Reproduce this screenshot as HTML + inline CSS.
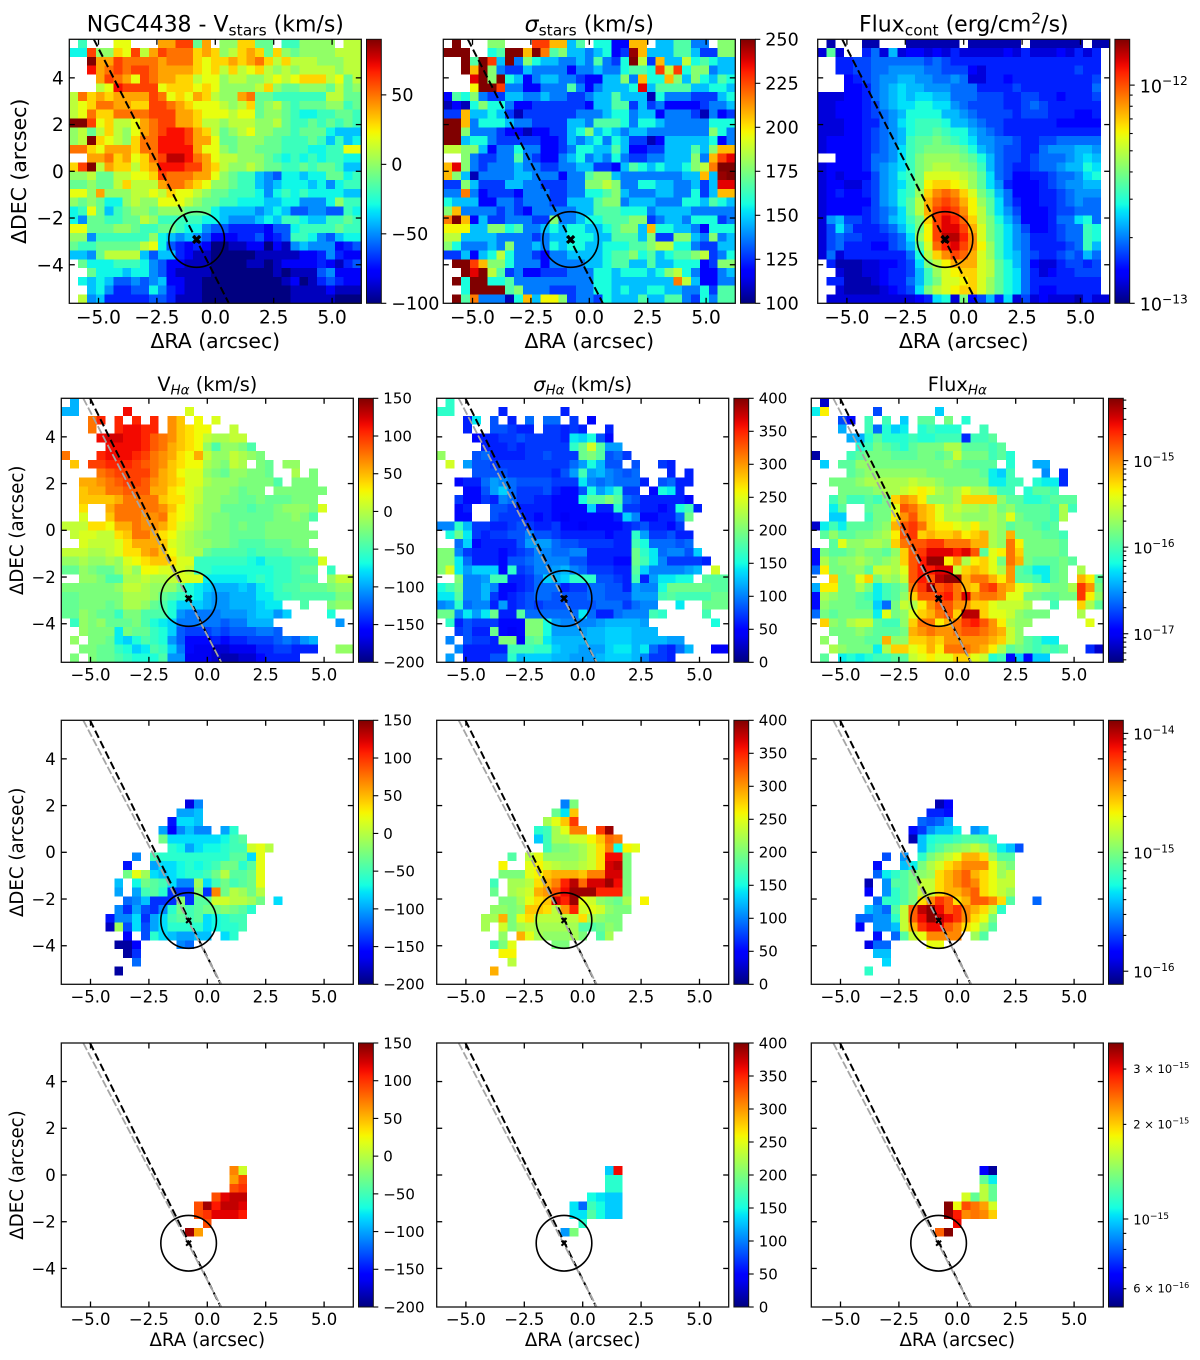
<!DOCTYPE html>
<html lang="en">
<head>
<meta charset="utf-8">
<title>NGC4438 kinematic maps</title>
<style>
html,body{margin:0;padding:0;background:#fff;}
svg{display:block;font-family:"DejaVu Sans","Liberation Sans",sans-serif;fill:#000;}
</style>
</head>
<body>
<svg id="figure" xmlns="http://www.w3.org/2000/svg" width="1200" height="1360" viewBox="0 0 1200 1360">
<defs>
<linearGradient id="jetGradient" x1="0" y1="1" x2="0" y2="0"></linearGradient>
</defs>
<rect x="0" y="0" width="1200" height="1360" fill="#fff"/>
<g id="panels"></g>
<g font-size="22" text-anchor="middle">
<text x="215.3" y="31.5">NGC4438 - V<tspan dy="4" font-size="15.5">stars</tspan><tspan dy="-4"> (km/s)</tspan></text>
<text x="589.3" y="31.5"><tspan font-style="italic">σ</tspan><tspan dy="4" font-size="15.5">stars</tspan><tspan dy="-4"> (km/s)</tspan></text>
<text x="963.8" y="31.5">Flux<tspan dy="4" font-size="15.5">cont</tspan><tspan dy="-4"> (erg/cm</tspan><tspan dy="-8" font-size="15.5">2</tspan><tspan dy="8">/s)</tspan></text>
</g>
<g font-size="19.3" text-anchor="middle">
<text x="207.3" y="391">V<tspan dy="3.5" font-size="13.5" font-style="italic">Hα</tspan><tspan dy="-3.5"> (km/s)</tspan></text>
<text x="582.7" y="391"><tspan font-style="italic">σ</tspan><tspan dy="3.5" font-size="13.5" font-style="italic">Hα</tspan><tspan dy="-3.5"> (km/s)</tspan></text>
<text x="957.3" y="391">Flux<tspan dy="3.5" font-size="13.5" font-style="italic">Hα</tspan></text>
</g>
<g font-size="20.4" text-anchor="middle">
<text x="215.3" y="348">ΔRA (arcsec)</text>
<text x="589.3" y="348">ΔRA (arcsec)</text>
<text x="963.8" y="348">ΔRA (arcsec)</text>
<text transform="translate(26,171.3) rotate(-90)">ΔDEC (arcsec)</text>
</g>
<g font-size="18.2" text-anchor="middle">
<text x="207.3" y="1346">ΔRA (arcsec)</text>
<text x="582.7" y="1346">ΔRA (arcsec)</text>
<text x="957.3" y="1346">ΔRA (arcsec)</text>
<text transform="translate(23,530.3) rotate(-90)">ΔDEC (arcsec)</text>
<text transform="translate(23,852.3) rotate(-90)">ΔDEC (arcsec)</text>
<text transform="translate(23,1175) rotate(-90)">ΔDEC (arcsec)</text>
</g>
</svg>
<script>
const _=null;
const xTickValues=[-5,-2.5,0,2.5,5];
const yTickValues=[-4,-2,0,2,4];
const velocityStarTicks=[-100,-50,0,50];
const sigmaStarTicks=[100,125,150,175,200,225,250];
const velocityGasTicks=[-200,-150,-100,-50,0,50,100,150];
const sigmaGasTicks=[0,50,100,150,200,250,300,350,400];

// V_stars, tens of km/s
const vStars=[
[_,-2,_,_,_,2,2,_,_,_,4,4,6,6,-1,4,_,0,0,3,3,-1,-1,_,-2,-2,0,0,0,0,_,1,1],
[-3,-3,6,0,0,3,2,6,1,4,6,5,5,5,3,4,3,0,1,3,4,3,-1,3,0,-1,0,0,0,0,1,1,1],
[_,_,9,4,4,6,5,5,5,5,4,5,5,5,3,2,3,3,4,3,4,5,3,1,3,1,1,1,0,0,0,1,1],
[_,_,7,4,5,6,5,6,6,5,4,4,4,4,3,2,3,1,3,1,2,3,1,0,1,0,1,1,1,1,0,1,1],
[_,_,_,4,6,5,4,2,6,5,4,4,3,3,1,2,2,0,1,1,0,0,1,2,1,2,3,3,3,1,2,-1,1],
[_,_,_,1,2,7,6,6,6,6,2,3,3,3,2,3,2,0,0,0,0,1,3,0,-1,-1,0,0,0,-1,1,-1,0],
[1,5,3,4,3,4,4,4,4,6,5,2,3,2,4,3,1,0,0,4,5,-1,-1,-2,-2,-2,-2,-2,-2,1,1,-1,-1],
[1,2,3,5,5,4,4,3,3,6,6,5,4,3,2,2,2,1,0,1,3,-1,0,1,-1,-2,-1,-1,-1,0,0,-2,-1],
[1,2,5,3,3,5,5,5,5,6,6,6,4,4,3,2,2,2,1,2,2,-1,0,0,-1,-2,-3,-3,-2,-2,-1,-1,-2],
[9,9,6,2,3,1,1,2,4,5,6,6,4,4,3,1,1,0,1,1,1,0,0,1,-1,-2,-2,-1,-2,-1,-2,-1,-2],
[0,1,-1,1,3,1,0,2,4,5,6,7,7,6,4,3,1,-1,0,1,2,0,0,-1,-1,-2,-1,-1,-1,-3,-4,-4,-4],
[0,1,9,3,2,1,0,3,5,5,7,7,7,6,4,4,2,-1,-1,0,0,0,-1,-1,-2,-2,-2,-1,-2,-4,-2,-4,-3],
[5,5,3,2,4,4,4,3,5,5,7,7,7,7,4,2,2,0,-1,0,0,-1,-1,-1,-2,-2,-2,-3,-3,-2,-2,2,2],
[_,_,4,4,5,3,4,2,3,5,6,8,8,7,5,4,2,1,1,0,0,0,-1,-2,-3,-2,-3,-2,-3,-2,-2,-3,-3],
[3,6,9,1,4,3,3,1,3,4,7,7,7,6,6,4,3,1,0,0,1,0,-1,-1,-2,-2,-1,-2,-1,-1,-2,-4,-4],
[0,0,1,-1,-1,1,1,2,2,3,6,5,5,5,4,4,2,0,-1,-2,-2,-4,-5,-6,-3,-3,-4,-3,-3,-1,-1,-3,-2],
[-1,-1,0,-1,-1,1,3,1,1,1,4,5,5,4,3,2,0,0,-1,-2,-2,-4,-5,-4,-3,-3,-3,-4,-3,-5,-3,-2,-2],
[2,2,0,4,0,0,0,1,1,2,1,3,2,2,1,0,-1,-1,-2,-2,-2,-3,-5,-3,-2,-3,-2,-3,-3,-3,-3,-4,-4],
[0,-1,0,-1,-3,-3,0,1,0,0,2,2,2,1,0,-1,-1,-2,-2,-3,-3,-3,-4,-4,-3,-3,-5,-5,-5,-3,0,-2,-2],
[-3,-2,2,-1,-4,-2,-1,0,0,-1,0,0,0,-1,-1,-1,-3,-4,-4,-4,-4,-5,-4,-3,-4,-6,-6,-5,-5,-6,-6,-2,-3],
[-3,-5,-1,-1,-2,-2,-1,-1,1,0,-2,-2,-2,-2,-2,-3,-3,-4,-5,-5,-5,-4,-3,-4,-2,-2,-3,-4,-4,-2,-2,-1,-2],
[2,2,-1,-1,-1,0,0,-1,-2,-2,-1,-1,-2,-3,-3,-5,-6,-6,-7,-7,-7,-7,-8,-6,-6,-3,-2,-2,-2,-2,-1,-2,-2],
[0,0,-5,-2,-2,-2,-2,-2,-2,0,-3,-4,-5,-4,-5,-6,-8,-8,-8,-7,-7,-6,-8,-7,-6,-2,-2,-3,-5,-6,-4,-3,-3],
[-1,-2,-2,-1,-1,-1,-1,-1,1,2,-3,-6,-7,-8,-7,-8,-10,-10,-9,-9,-8,-8,-10,-8,-9,-5,-4,-5,-5,-5,-8,-7,-6],
[-4,-4,-5,-1,1,1,1,1,-4,-6,-4,-4,-7,-8,-9,-9,-10,-10,-10,-10,-10,-9,-9,-9,-9,-9,-8,-8,-7,-5,-7,-8,-8],
[_,-1,-3,-3,-3,-2,-2,-2,-3,-5,-6,-8,-8,-9,-9,-9,-10,-10,-10,-10,-9,-9,-10,-9,-8,-8,-8,-8,-7,-8,-9,-7,-6],
[_,_,-1,-3,-3,-3,-4,-3,-3,-5,-6,-8,-9,-9,-9,-9,-10,-10,-10,-10,-10,-10,-10,-9,-10,-9,-9,-9,-6,-5,-8,-8,-8],
[_,-3,-4,-3,-4,-6,-6,-5,-6,-5,-4,-8,-8,-9,-9,-10,-10,-10,-10,-10,-10,-10,-10,-10,-9,-8,-11,-9,-7,-6,-7,-8,-8],
[_,_,-4,-3,-5,-7,-7,-6,-6,-3,-5,-7,-8,-9,-9,-10,-10,-10,-10,-10,-10,-10,-10,-10,-10,-9,-9,-9,-9,-8,-9,-9,-9],
[_,1,-5,-4,-7,-7,-7,-7,-7,-6,-6,-7,-9,-9,-9,-10,-10,-10,-10,-10,-10,-10,-10,-10,-10,-9,-9,-9,-9,-9,-10,-10,-10]
];

// sigma_stars, tens of km/s
const sigmaStars=[
[_,25,_,_,_,17,17,_,_,_,22,22,20,20,14,16,_,15,15,11,11,20,20,_,14,14,16,16,13,13,_,17,17],
[25,25,25,_,_,15,16,25,25,20,25,21,16,17,14,14,13,14,15,11,12,24,20,14,14,14,16,16,14,12,12,17,17],
[_,_,25,16,25,22,14,25,13,17,15,14,14,13,13,14,13,16,13,12,15,25,18,12,20,14,14,18,15,16,15,14,14],
[_,_,25,20,25,17,13,12,12,14,13,13,13,13,11,13,13,14,13,13,15,16,16,15,22,18,22,15,17,17,13,14,14],
[_,_,_,23,25,17,25,15,14,11,13,14,14,13,13,12,11,11,14,14,17,13,20,15,15,20,17,14,17,15,14,16,15],
[_,_,_,19,25,25,22,13,13,11,11,13,13,13,16,13,11,13,14,14,14,15,23,14,16,16,16,16,14,14,15,15,14],
[11,16,15,17,13,12,12,14,14,13,13,14,13,13,12,12,13,14,14,16,14,14,14,10,15,13,13,13,12,12,12,14,15],
[10,11,10,15,17,15,15,13,11,11,12,12,12,12,12,12,11,14,14,16,16,12,14,12,13,11,11,11,11,12,13,13,14],
[12,12,20,14,14,15,14,12,10,12,12,12,12,12,12,13,13,13,14,15,15,13,14,14,11,13,13,13,12,10,13,11,12],
[25,25,20,13,15,15,15,14,13,13,12,12,12,12,14,14,13,16,16,16,15,13,15,15,14,13,13,13,13,13,15,15,15],
[25,25,17,13,13,13,12,11,11,10,11,11,12,12,14,15,17,14,15,14,13,14,14,13,13,13,13,13,13,13,17,15,13],
[25,25,14,15,15,13,12,12,12,12,12,11,11,12,14,13,14,15,13,15,14,12,12,10,11,14,14,14,14,14,15,11,13],
[18,18,17,17,14,11,13,13,15,13,13,11,11,12,13,15,15,14,14,16,14,11,11,12,12,14,14,14,16,14,17,20,20],
[_,_,17,13,12,12,13,13,16,13,12,11,11,13,14,15,13,14,13,15,13,12,12,13,13,14,14,14,17,13,20,22,23],
[20,23,17,13,12,13,13,13,14,13,13,12,12,13,13,14,14,12,12,11,14,16,15,14,15,14,14,15,17,18,21,25,25],
[20,17,14,10,13,13,13,13,14,14,13,13,13,11,13,13,16,17,17,14,13,13,13,13,13,13,13,14,14,20,14,24,25],
[12,12,17,14,12,12,12,14,14,13,13,12,12,12,13,13,17,17,18,17,13,13,15,15,14,14,13,13,14,12,14,23,23],
[13,13,21,13,11,12,12,12,11,13,13,13,12,12,13,13,15,15,16,17,14,13,13,13,14,14,13,13,15,12,14,20,20],
[15,14,14,14,11,11,13,13,12,13,13,13,12,12,14,14,14,16,17,17,13,14,14,14,13,13,13,15,15,14,16,15,14],
[17,20,13,13,13,13,12,13,12,11,13,13,13,13,13,14,14,16,16,16,15,15,15,13,14,14,14,14,13,13,13,13,13],
[21,25,20,11,14,12,12,13,13,13,12,12,17,13,13,14,15,15,16,16,16,17,17,12,13,14,14,13,15,15,15,12,13],
[19,19,19,14,14,17,17,15,16,13,13,14,15,14,15,15,14,14,15,16,17,17,14,20,15,15,14,14,13,11,15,15,15],
[18,18,14,14,14,14,13,13,13,13,12,13,14,14,15,15,15,14,14,16,16,16,14,17,12,12,17,17,14,13,17,13,14],
[17,15,13,13,13,14,13,17,13,13,14,13,15,14,15,15,14,14,15,15,15,16,16,17,18,18,15,15,13,12,12,14,14],
[12,12,14,11,14,15,18,15,13,13,12,11,13,13,14,14,14,14,15,16,16,17,15,16,14,15,16,16,17,18,12,13,15],
[_,25,25,22,20,17,17,15,13,13,13,11,13,13,13,13,14,14,15,16,16,14,14,16,14,14,15,15,15,11,12,17,17],
[_,_,25,23,25,18,16,12,13,11,11,12,12,12,13,13,13,15,15,14,15,15,15,14,15,17,18,15,13,11,11,13,14],
[_,25,15,25,25,15,15,16,13,13,13,13,13,13,13,13,13,15,15,14,14,14,14,14,14,14,21,18,14,11,11,13,13],
[_,_,15,25,25,25,25,16,17,13,13,13,12,12,12,13,13,15,15,14,15,14,14,15,15,14,14,13,13,15,12,16,16],
[_,25,16,21,13,13,13,10,15,20,14,19,19,17,12,13,13,12,15,14,14,14,16,14,14,16,16,13,12,15,13,16,16]
];

// Continuum flux, units of 0.05 dex above 1e-13
const fluxCont=[
[_,0,_,_,_,0,0,_,_,_,0,0,0,0,0,0,_,0,0,0,0,0,0,_,0,0,0,0,0,0,_,0,0],
[1,11,1,_,_,3,5,1,7,1,2,2,1,2,1,3,1,1,1,1,1,2,1,3,1,1,1,2,1,3,1,3,_],
[_,_,3,3,4,4,5,5,5,5,5,5,4,5,4,3,3,3,3,3,3,3,3,3,3,3,3,3,3,3,3,3,_],
[_,_,3,3,4,4,5,5,6,6,6,6,5,5,4,4,4,2,1,3,3,3,3,3,3,3,3,3,3,4,3,3,_],
[_,_,_,2,3,4,5,6,6,7,7,6,6,5,5,6,5,1,1,3,3,2,3,3,3,3,3,3,3,3,3,4,_],
[_,_,_,2,2,3,5,6,7,8,7,7,6,6,6,5,5,5,3,3,3,3,4,3,3,3,3,3,3,3,3,5,_],
[1,1,1,2,2,3,5,6,7,8,7,8,8,7,7,5,5,5,4,4,4,3,3,4,4,3,3,2,3,3,3,4,_],
[1,1,2,2,2,3,4,6,7,8,8,9,9,8,8,6,5,4,4,4,4,3,3,4,5,4,3,3,3,3,3,3,_],
[1,1,2,2,2,3,4,5,6,7,9,9,9,9,7,7,6,5,4,4,4,4,3,4,4,4,3,3,3,2,2,3,_],
[1,1,1,2,2,3,3,5,6,8,9,10,10,10,9,7,7,6,5,4,4,3,3,3,3,3,3,2,2,2,2,2,_],
[1,1,1,2,2,3,4,5,6,7,9,10,10,11,10,9,9,7,6,5,4,3,3,3,3,3,3,3,3,3,3,3,_],
[1,2,2,2,2,3,4,5,6,7,10,11,11,12,11,10,9,8,6,6,5,5,4,3,3,4,4,5,5,5,5,5,_],
[1,2,2,2,2,3,4,5,6,8,10,11,12,12,12,12,11,9,7,6,5,4,4,3,3,5,6,6,6,7,7,6,_],
[_,_,2,2,2,3,5,5,6,8,10,12,13,13,13,13,12,11,9,7,5,4,4,3,4,5,5,5,6,7,8,7,_],
[1,2,2,2,2,3,5,6,7,8,10,12,13,14,14,13,13,12,10,7,5,4,3,3,4,5,5,6,7,7,9,8,_],
[1,2,1,2,2,2,4,6,7,9,10,12,15,15,15,15,14,13,11,8,5,4,2,2,3,3,4,5,5,6,8,9,_],
[1,2,2,1,1,3,4,6,7,8,10,12,16,17,17,16,15,13,11,8,6,3,2,2,2,3,4,5,6,6,7,7,_],
[1,2,3,2,2,3,4,6,7,9,10,13,17,19,20,19,17,15,12,10,7,5,2,2,2,3,3,4,5,6,6,6,_],
[1,2,2,2,2,2,4,6,7,9,11,14,18,20,21,20,18,16,13,11,8,5,3,2,2,3,3,4,5,6,5,5,_],
[1,2,2,2,2,3,4,5,6,8,11,14,18,21,22,21,19,16,14,11,8,6,4,2,2,2,3,4,4,5,5,5,_],
[1,6,7,4,4,3,4,5,7,8,10,12,17,21,23,22,20,17,14,12,9,7,5,2,2,2,3,5,5,8,9,5,_],
[1,4,8,5,3,3,3,4,5,7,9,12,16,21,23,23,21,18,15,12,10,8,6,4,2,2,3,4,5,5,10,9,_],
[1,4,5,4,4,3,3,3,4,5,8,13,16,21,24,24,22,19,15,12,10,8,6,5,3,3,3,4,5,5,10,9,_],
[1,4,5,3,3,3,2,2,4,5,7,11,15,20,22,23,21,19,16,13,10,8,6,5,3,3,3,3,4,5,10,7,_],
[1,5,1,3,3,3,3,3,3,3,5,9,14,17,19,21,20,18,15,13,10,8,7,5,4,3,3,4,5,4,7,5,_],
[_,3,0,0,0,1,1,2,2,3,4,8,12,14,16,18,18,18,15,14,11,9,7,5,2,1,1,3,4,4,3,4,_],
[_,_,1,0,0,1,1,2,3,3,4,7,10,13,15,16,17,17,15,14,11,9,8,5,3,1,2,3,3,4,4,4,_],
[_,3,3,0,0,0,1,2,3,3,5,7,10,12,15,15,16,17,15,13,11,9,8,5,3,3,3,3,3,3,3,3,_],
[_,_,1,0,0,0,0,1,2,3,4,8,12,14,15,16,17,17,15,13,11,9,8,5,3,2,2,3,3,3,3,3,_],
[_,1,1,1,1,1,1,1,1,1,1,2,3,8,9,1,12,2,4,7,3,8,1,4,1,2,1,1,1,0,3,1,1]
];

// V_Halpha, tens of km/s
const vGas=[
[_,-10],
[-10,-10,_,_,_,_,_,11,_,_,_,_,_,_,1],
[_,_,_,7,10,_,10,_,10,_,10,_,6,4,_,2,_,1],
[_,_,_,7,_,_,10,11,11,10,10,_,6,4,3,2,2,_,_,0],
[_,_,_,_,11,12,12,11,11,10,8,7,6,4,3,2,0,-1,-1,0,0],
[_,_,_,_,_,11,11,11,11,10,8,7,5,4,3,2,-2,-5,-2,-2,-3,-5],
[7,_,_,_,10,11,11,11,10,9,7,6,5,3,2,5,0,-2,-2,0,-1,-2,-3],
[_,4,_,9,9,10,10,10,9,8,7,6,4,3,2,2,-1,-2,-3,0,-1,_,-3,-4,_,-2,-2],
[_,_,_,_,7,8,9,9,9,9,7,5,4,2,1,1,-2,-3,-4,-2,-2,-3,-3,-4,_,_,-1,_,-3],
[_,_,5,5,6,7,8,9,9,8,6,5,4,3,1,1,-1,-2,-2,-2,-3,-3,-3,-3,-5,_,-3,-3,-3],
[_,_,4,5,5,7,7,8,8,8,5,5,3,2,1,0,-2,-2,-2,-3,-4,-3,-3,_,-3,-3,-3,-3,-3,-3],
[_,_,4,4,4,4,5,7,7,7,7,4,3,3,1,0,-2,-2,-3,-3,-4,-4,-3,-4,-4,-4,-3,-3,-3],
[_,_,3,_,_,5,7,7,7,7,7,6,4,2,1,-1,-2,-2,-4,-4,-4,-5,-4,-4,-3,-2,-2,-2,-3,1],
[_,_,1,_,_,4,7,7,7,6,6,7,3,2,1,-1,-2,-3,-3,-4,-4,-4,-4,-4,-3,-3,-2,-3,-5],
[0,0,0,3,3,2,5,5,7,6,6,5,3,1,0,-1,-2,-3,-3,-4,-3,-4,-4,-3,-3,-3,-3,-3],
[_,0,1,1,0,0,3,4,7,7,5,3,2,0,-1,-2,-3,-3,-3,-4,-4,-4,-4,-3,-3,-3,-3,-3,-3],
[_,_,1,0,0,0,1,3,5,5,5,4,1,0,-1,-2,-2,-3,-3,-4,-5,-5,-5,-4,-4,-4,-3,-3],
[0,0,0,-1,-1,0,1,3,3,5,6,4,2,0,-1,-1,-4,-5,-5,-5,-5,-6,-5,-5,-5,-4,-4,-4,-3],
[-2,-2,-1,-2,-2,-1,-2,1,2,3,4,4,3,1,1,-6,-6,-6,-6,-6,-6,-7,-8,-6,-6,-6,-5,-5,-5,1],
[-4,-4,-2,-3,-4,-4,-2,0,-2,2,2,1,1,1,0,-6,-6,-7,-7,-7,-7,-7,-7,-7,-6,-6,-5,-4,-4,_,-6],
[_,_,-2,-2,-3,-5,-5,-1,-1,0,-1,-1,0,1,1,1,-8,-8,-8,-8,-8,-7,-6,-7,-6,-6,-5,-5,-5,_,-2,0,0],
[-3,-3,-3,-3,-3,-3,-2,0,0,-1,-2,-2,-2,-4,-7,-8,-9,-10,-10,-10,-9,-10,-8,-7,-6,-5,-5,-4,-4,-4,-3,-2,-2],
[-4,-4,-3,-3,-3,-3,-3,-1,-1,-1,-2,-4,-5,-6,-7,-8,-10,-11,-11,-10,-10,-10,-8,-8,-6,-6,-5,-5,-5,-5,-5,-3,-3],
[-4,-4,-3,-3,-3,-4,-3,-1,-1,-2,-4,-5,-7,-9,-9,-9,-10,-11,-11,-10,-10,-10,-9,-8,-8,_,_,-5,_,_,-3,-2,-2],
[-4,-4,-2,-3,-4,-4,-6,-3,-3,-5,-5,-5,-7,-11,-12,-12,-12,-12,-11,-11,-11,-10,-9,-9,-11,-9,_,_,_,_,-7],
[_,-6,-2,-3,-2,-4,-4,-4,-3,-5,-7,-8,-9,-12,-12,-12,-12,-12,-13,-12,-12,-10,-10,-10,_,_,_,_,_,_,_,-11],
[_,_,-2,-3,-3,-3,-8,-3,-4,-4,-6,-7,-9,-13,-14,-14,-14,-13,-14,-13,-13,-13,-12,-12,-13],
[_,-2,_,-3,-3,-4,-8,-9,-7,-5,-6,-7,-11,-13,-16,-16,-16,-15,-16,-15,-15,-14,-14,-14,-13,-12,-13,-11,-10],
[_,_,-3,-3,-4,-4,-6,-7,-9,-8,-5,-6,-9,-12,-16,-17,-17,-18,-18,-17,-17,-17,-15,-15,-14,-14,-15,-15,-15,_,_,-2,-2],
[_,-3,_,-3,-4,-4,-5,-6,-7,-7,-7,-5,-11,-11,-17,-17,-17,-18,-19,-19,-18,-18,-16,-15,-15,-15,-15]
];

// sigma_Halpha, tens of km/s
const sigmaGas=[
[_,15],
[15,15,_,_,_,_,_,5,_,_,_,_,_,_,5],
[_,_,_,5,13,_,7,_,5,_,8,_,8,8,_,6,_,4],
[_,_,_,5,_,_,7,7,6,5,5,_,6,6,5,6,5,_,_,5],
[_,_,_,_,4,5,5,6,6,7,6,6,6,6,5,13,12,14,7,4],
[_,_,_,_,_,5,5,5,6,5,6,6,6,6,6,15,18,23,17,10,10],
[20,_,_,_,7,8,5,5,5,5,6,6,7,6,6,6,18,19,17,7,8,6],
[_,23,_,10,7,7,6,6,6,6,6,6,6,6,6,8,10,14,11,7,7,_,7,_,_,6,5],
[_,_,_,_,7,7,7,7,6,6,6,6,6,5,7,10,16,10,11,9,8,7,8,_,_,_,5,_,5],
[_,_,4,5,5,8,10,9,8,7,7,7,7,6,6,6,13,9,8,9,8,8,8,5,_,7,8,5,5],
[_,_,_,4,4,7,10,12,8,6,6,6,7,5,4,4,7,14,10,12,15,6,6,_,4,14,13,5],
[_,_,6,4,4,6,5,9,8,6,6,5,5,4,4,4,14,17,17,19,17,8,7,5,5,5,5,5,4],
[_,_,4,5,_,_,7,7,6,5,5,5,5,4,4,4,4,12,5,5,15,6,6,5,5,4,5,14,16,5],
[_,_,4,4,_,_,7,6,6,6,5,4,5,4,3,4,4,4,4,4,5,12,9,4,4,5,5,8,18],
[9,9,15,11,6,6,5,5,6,7,6,5,5,6,4,4,3,4,4,4,4,5,6,7,5,5,4,6],
[_,14,18,13,6,5,6,6,7,7,9,7,7,6,5,5,5,5,5,4,5,5,15,10,6,6,7,5,5],
[_,_,8,12,4,5,5,5,5,7,10,10,10,8,7,7,6,6,6,6,5,5,16,14,8,8,8,7,8],
[19,19,9,6,5,5,5,4,5,6,7,9,9,8,8,9,9,5,5,5,5,5,18,15,13,8,9,9,7,12],
[19,19,13,8,5,5,5,4,7,7,8,9,9,9,9,7,7,5,5,5,4,4,18,16,13,9,6,6,6,6,5],
[19,23,13,10,12,12,12,4,15,6,7,9,9,10,11,9,8,6,6,6,5,5,17,12,9,9,9,9,10,11,_,23],
[_,_,19,9,9,10,16,16,5,5,6,8,12,11,12,15,15,15,7,7,6,5,16,5,10,13,13,14,14,_,17,17,17],
[14,16,18,9,9,11,9,4,4,5,6,8,8,8,5,6,6,8,8,7,7,5,10,9,9,14,18,18,18,18,18,17,17],
[13,13,17,9,9,11,6,4,5,6,7,8,8,7,7,7,7,8,8,7,7,7,10,10,10,16,17,16,16,16,16,18,18],
[9,10,15,8,9,9,5,10,5,6,7,6,7,7,7,7,7,7,8,8,8,6,8,9,9,_,_,13,_,_,18,18,18],
[18,18,9,13,10,13,18,5,5,17,8,8,8,8,8,8,13,8,5,5,8,9,9,9,16,15,_,_,_,_,16],
[_,15,5,7,6,6,6,4,4,4,19,19,14,10,9,9,9,9,10,11,11,11,11,10,_,_,_,_,_,_,_,14],
[_,_,6,7,5,5,18,4,3,4,19,19,14,10,10,10,10,11,11,12,12,12,11,11,11],
[_,9,_,7,6,6,5,19,19,3,17,18,13,11,11,11,11,11,11,12,12,12,11,11,11,11,10,10],
[_,_,9,5,5,5,5,5,16,16,16,15,15,12,11,11,10,10,10,12,13,13,11,13,8,6,5,8,11,_,_,3,3],
[_,10,_,5,5,5,7,7,15,11,12,12,12,11,11,10,10,10,11,12,12,12,11,9,6,6,5]
];

// Halpha flux, units of 0.1 dex above 10^-17.33
const fluxGas=[
[_,2],
[11,20,_,_,_,_,_,6,_,_,_,_,_,_,10],
[_,_,_,6,4,_,13,_,13,_,10,_,14,14,_,15,_,12],
[_,_,_,9,_,_,13,7,12,10,11,_,12,13,12,12,12,_,_,13],
[_,_,_,_,9,9,12,14,12,12,12,13,12,12,13,13,13,5,13,13,14],
[_,_,_,_,_,12,13,15,14,13,12,14,15,15,15,17,17,14,14,14,13,14],
[1,_,_,_,13,14,15,15,15,14,14,14,15,15,14,15,18,15,15,15,13,14,12],
[_,10,_,14,14,16,16,15,15,15,15,15,15,15,15,16,15,14,14,14,14,_,12,_,_,9,9],
[_,_,_,_,14,15,16,16,16,16,16,16,16,15,15,15,15,15,15,14,11,10,13,_,_,_,8,_,5],
[_,_,15,15,15,16,17,17,17,17,17,18,17,17,16,15,15,15,15,15,11,11,13,13,_,12,11,11,5],
[_,_,_,15,15,15,15,16,17,17,18,19,20,19,17,16,17,19,17,17,15,13,13,_,12,14,14,13],
[_,_,13,15,13,13,14,13,15,21,23,22,20,16,16,16,17,21,21,21,21,16,14,14,12,12,13,14,14,14],
[_,_,11,14,_,_,14,15,15,19,25,24,22,21,19,17,18,17,17,16,17,15,16,14,14,14,14,13,17,13],
[_,_,10,10,_,_,13,15,15,20,23,25,22,21,19,17,17,16,16,16,17,16,19,15,14,14,14,13,17],
[2,11,13,11,14,14,14,15,16,22,25,26,24,21,20,20,19,18,20,17,17,16,14,15,15,14,13,14],
[_,14,16,14,14,15,15,16,17,20,25,26,21,22,21,21,22,20,21,22,17,16,22,15,15,15,14,14,13],
[_,_,14,19,16,16,17,17,16,21,24,25,25,26,26,24,24,24,22,22,17,16,24,20,15,15,15,15,14],
[4,15,14,14,15,16,15,15,14,16,21,25,26,28,28,28,27,28,25,14,19,20,24,21,15,15,15,15,14],
[4,17,15,16,16,17,16,15,16,17,21,25,27,30,30,20,23,17,20,21,19,15,24,22,15,14,14,14,15,14],
[7,20,15,15,16,16,14,18,18,17,19,25,27,27,28,28,18,21,22,21,19,17,23,14,13,11,11,14,15,_,17],
[_,_,21,15,15,19,21,15,17,16,18,25,27,25,29,30,30,22,24,24,22,20,23,14,14,13,11,14,15,_,22,20,14],
[9,20,20,15,15,17,15,11,13,14,15,24,26,29,25,26,24,22,21,25,26,23,22,19,18,16,16,15,15,17,26,23,15],
[4,17,16,15,15,14,13,11,13,14,16,21,25,25,26,27,24,28,23,24,24,23,19,19,15,15,14,14,15,15,26,20,16],
[4,16,15,15,15,14,14,10,7,15,18,17,20,23,25,25,23,23,21,21,19,18,18,18,17,_,_,13,_,_,21,17,14],
[7,15,14,15,15,15,15,11,19,15,16,19,21,22,24,25,21,29,29,21,19,19,18,16,15,15,15,_,_,_,17],
[_,21,16,15,17,18,18,14,13,13,16,21,24,24,20,22,24,26,27,25,23,20,17,16,16,_,_,_,_,_,_,19],
[_,_,15,15,15,16,15,14,14,14,15,22,23,24,23,23,24,25,25,24,23,22,18,16],
[_,16,_,15,15,15,14,14,22,16,16,21,21,22,21,23,23,23,23,23,22,21,18,16,14,13,11,11],
[_,_,17,16,15,15,15,11,17,21,21,19,20,22,20,24,24,24,23,22,20,17,14,15,14,13,14,13,14,_,_,5,2],
[_,14,_,11,12,11,12,13,13,14,14,18,19,20,19,19,21,21,19,18,12,13,4,10,4,10,10]
];

// Row 3: broad/intermediate component
const vGasMid=[[],[],[],[],[],[],[],[],[],
[_,_,_,_,_,_,_,_,_,_,_,_,_,_,-17,-11],
[_,_,_,_,_,_,_,_,_,_,_,_,_,-10,-10,-9],
[_,_,_,_,_,_,_,_,_,_,_,_,-15,-8,-8,-9],
[_,_,_,_,_,_,_,_,_,_,_,-10,-16,-11,-9,-11,-11,_,-10,-6],
[_,_,_,_,_,_,_,_,_,_,_,-3,-8,-8,-8,-8,-8,-8,-7,-5,-4],
[_,_,_,_,_,_,_,_,_,_,_,_,-6,-7,-10,-8,-7,-7,-6,-5,-5,1,2,0],
[_,_,_,_,_,_,_,_,-11,_,-5,-6,-6,-6,-6,-6,-6,-6,-6,-4,-4,-8,2],
[_,_,_,_,_,_,_,-15,_,_,-10,-8,-8,-7,-6,-7,-6,-5,-3,-3,-6,-4,2],
[_,_,_,_,_,_,_,-3,2,-1,-8,-9,-8,-7,-6,-6,-5,-3,0,-4,-4,-3,2],
[_,_,_,_,_,_,-9,_,-7,-3,-4,-5,-8,-11,-11,-1,-8,-5,-3,-5,-4,-3,2],
[_,_,_,_,_,_,-10,_,-10,-5,-4,-6,-14,-14,-14,-2,-14,7,-3,0,-1,-3,0],
[_,_,_,_,_,_,_,-12,-11,-9,-14,-14,-14,-2,-14,-4,-4,1,1,0,0,-1,-3,_,-8],
[_,_,_,_,_,_,-11,-14,-10,-13,-14,-11,-6,-3,-5,-4,-3,-3,-2,-3,-4,-6],
[_,_,_,_,_,-15,-11,-11,-8,-14,-10,-8,-5,-4,-5,-4,-8,-7,-6,-5,-5],
[_,_,_,_,_,-18,-1,-13,-8,-13,-10,-8,-6,-6,-6,-6,-8,-7,-6,-6,-5],
[_,_,_,_,_,_,_,-16,_,-13,-6,-8,-9,-10,-10,-9,-9,_,-8,-6],
[_,_,_,_,_,_,-19,-19,-16,_,_,_,_,-11,-12],
[_,_,_,_,_,_,_,-19,-14],
[_,_,_,_,_,_,_,_,-12],
[_,_,_,_,_,_,-19]
];
const sigmaGasMid=[[],[],[],[],[],[],[],[],[],
[_,_,_,_,_,_,_,_,_,_,_,_,_,_,10,20],
[_,_,_,_,_,_,_,_,_,_,_,_,_,19,14,28],
[_,_,_,_,_,_,_,_,_,_,_,_,22,25,28,34],
[_,_,_,_,_,_,_,_,_,_,_,16,17,22,25,31,31,_,34,39],
[_,_,_,_,_,_,_,_,_,_,_,13,17,22,22,24,24,26,28,32,31],
[_,_,_,_,_,_,_,_,_,_,_,_,17,20,20,21,22,24,27,31,15,26,25],
[_,_,_,_,_,_,_,_,18,_,23,25,21,21,21,21,22,24,27,36,36,20],
[_,_,_,_,_,_,_,26,_,_,25,26,24,23,22,22,23,24,27,37,38,20],
[_,_,_,_,_,_,_,20,20,20,25,26,28,29,29,29,28,31,31,37,37,20],
[_,_,_,_,_,_,17,_,22,22,23,27,29,31,35,38,32,37,37,39,36,20],
[_,_,_,_,_,_,19,_,22,23,24,29,30,33,36,39,39,39,35,35,35,20],
[_,_,_,_,_,_,_,20,20,22,25,27,28,37,35,39,25,24,21,20,19,22,_,26],
[_,_,_,_,_,_,21,21,20,21,28,28,27,23,30,35,24,25,24,21,20,20],
[_,_,_,_,_,22,22,29,20,25,27,23,23,23,23,23,27,22,21,20,20],
[_,_,_,_,_,22,_,24,20,22,23,22,22,22,22,22,18,18,19,21,20],
[_,_,_,_,_,_,_,21,_,29,25,22,21,21,21,22,20,_,18,22],
[_,_,_,_,_,_,17,20,25,_,_,_,_,20,20],
[_,_,_,_,_,_,_,26,26],
[_,_,_,_,_,_,_,_,23],
[_,_,_,_,_,_,29]
];
const fluxGasMid=[[],[],[],[],[],[],[],[],[],
[_,_,_,_,_,_,_,_,_,_,_,_,_,_,1,2.5],
[_,_,_,_,_,_,_,_,_,_,_,_,_,3.5,3.5,3],
[_,_,_,_,_,_,_,_,_,_,_,_,5,4.5,5,6.5],
[_,_,_,_,_,_,_,_,_,_,_,3,4,6,7,7,8,_,6,7],
[_,_,_,_,_,_,_,_,_,_,_,1,7,8.5,9,9,9.5,10,10,9.5,9],
[_,_,_,_,_,_,_,_,_,_,_,_,7,9,10,11,11.5,12,13,12,10,8,7,4.5],
[_,_,_,_,_,_,_,_,4.5,_,6,_,9,11,12,13,14,16,16,15,12,10,10],
[_,_,_,_,_,_,_,3,_,_,7,8,11,12.5,13.5,15,16,17,17,17,14,12,11],
[_,_,_,_,_,_,_,5,8,9,10,11,11.5,12,15,16,17,18,16,15,14,12,13],
[_,_,_,_,_,_,1,_,6,10,10,11,13,13,15,16,17,18,17,15,14,13,13],
[_,_,_,_,_,_,2.5,_,6,9,10,11,13,13,15,16,16,17,18,15,14,13,12],
[_,_,_,_,_,_,_,5,9,9,10,11,15,17,19,18,15,16,18,18,17,15,10,_,_,5],
[_,_,_,_,_,_,7,6,5,10,13,18,21,22,20,18,19,17,16,15,13,9],
[_,_,_,_,_,5,5,6,6,9,13,18,20,22,21,20,19,17,15,14,11],
[_,_,_,_,_,2.5,_,6,6,7,13,16,19,20,20,18,17,15,14,12,10],
[_,_,_,_,_,_,_,3,_,5,10,13,14,17,17,17,17,_,12,10],
[_,_,_,_,_,_,2,5,5,_,_,_,_,14,14],
[_,_,_,_,_,_,_,7,7],
[_,_,_,_,_,_,_,_,7.5],
[_,_,_,_,_,_,9]
];

// Row 4: redshifted component
const vGasHigh=[[],[],[],[],[],[],[],[],[],[],[],[],[],[],
[_,_,_,_,_,_,_,_,_,_,_,_,_,_,_,_,_,_,_,7,1],
[_,_,_,_,_,_,_,_,_,_,_,_,_,_,_,_,_,_,_,6,9],
[_,_,_,_,_,_,_,_,_,_,_,_,_,_,_,_,_,_,_,9,10],
[_,_,_,_,_,_,_,_,_,_,_,_,_,_,_,_,_,9,12,13,13],
[_,_,_,_,_,_,_,_,_,_,_,_,_,_,_,9,14,11,13,13,12],
[_,_,_,_,_,_,_,_,_,_,_,_,_,_,_,9,10,12,12,12,11],
[_,_,_,_,_,_,_,_,_,_,_,_,_,_,_,_,9],
[_,_,_,_,_,_,_,_,_,_,_,_,_,_,14,6]
];
const sigmaGasHigh=[[],[],[],[],[],[],[],[],[],[],[],[],[],[],
[_,_,_,_,_,_,_,_,_,_,_,_,_,_,_,_,_,_,_,13,36],
[_,_,_,_,_,_,_,_,_,_,_,_,_,_,_,_,_,_,_,16,16],
[_,_,_,_,_,_,_,_,_,_,_,_,_,_,_,_,_,_,_,16,16],
[_,_,_,_,_,_,_,_,_,_,_,_,_,_,_,_,_,15,14,13,13],
[_,_,_,_,_,_,_,_,_,_,_,_,_,_,_,14,9,17,15,13,13],
[_,_,_,_,_,_,_,_,_,_,_,_,_,_,_,14,14,18,15,13,13],
[_,_,_,_,_,_,_,_,_,_,_,_,_,_,_,_,16],
[_,_,_,_,_,_,_,_,_,_,_,_,_,_,11,20]
];
// Units of 1e-16
const fluxGasHigh=[[],[],[],[],[],[],[],[],[],[],[],[],[],[],
[_,_,_,_,_,_,_,_,_,_,_,_,_,_,_,_,_,_,_,6.5,5.5],
[_,_,_,_,_,_,_,_,_,_,_,_,_,_,_,_,_,_,_,13,10.5],
[_,_,_,_,_,_,_,_,_,_,_,_,_,_,_,_,_,_,_,16,13],
[_,_,_,_,_,_,_,_,_,_,_,_,_,_,_,_,_,17,13,16,13],
[_,_,_,_,_,_,_,_,_,_,_,_,_,_,_,36,18,26,24,22,17],
[_,_,_,_,_,_,_,_,_,_,_,_,_,_,_,35,29,23,24,23,20],
[_,_,_,_,_,_,_,_,_,_,_,_,_,_,_,_,30],
[_,_,_,_,_,_,_,_,_,_,_,_,_,_,25,36]
];

const logMajorCont=[-13,-12];
const logMinorCont=[2e-13,3e-13,4e-13,5e-13,6e-13,7e-13,8e-13,9e-13];
const logMajorGas=[-17,-16,-15];
const logMinorGas=[5e-18,6e-18,7e-18,8e-18,9e-18,2e-17,3e-17,4e-17,5e-17,6e-17,7e-17,8e-17,9e-17,2e-16,3e-16,4e-16,5e-16,6e-16,7e-16,8e-16,9e-16,2e-15,3e-15,4e-15,5e-15];
const logMajorMid=[-16,-15,-14];
const logMinorMid=[2e-16,3e-16,4e-16,5e-16,6e-16,7e-16,8e-16,9e-16,2e-15,3e-15,4e-15,5e-15,6e-15,7e-15,8e-15,9e-15];
const logMajorHigh=[-15];
const logMinorHigh=[7e-16,8e-16,9e-16];
const logMantissaHigh=[6e-16,2e-15,3e-15];

const NS='http://www.w3.org/2000/svg';
const COLS=33,ROWS=30,AX_W=292,AX_H=264,X_LIM=6.25,Y_LIM=5.65;
const rowTops=[39.3,398.3,720.3,1043];
const panelRoot=document.getElementById('panels');

function jetChannel(points,f){
  for(let i=1;i<points.length;i++){
    if(f<=points[i][0]){
      const a=points[i-1],b=points[i];
      return a[1]+(b[1]-a[1])*(f-a[0])/(b[0]-a[0]);
    }
  }
  return points[points.length-1][1];
}
const jetR=[[0,0],[.35,0],[.66,1],[.89,1],[1,.5]];
const jetG=[[0,0],[.125,0],[.375,1],[.64,1],[.91,0],[1,0]];
const jetB=[[0,.5],[.11,1],[.34,1],[.65,0],[1,0]];
function jet(f){
  f=Math.max(0,Math.min(1,f));
  const c=p=>Math.round(255*jetChannel(p,f));
  return 'rgb('+c(jetR)+','+c(jetG)+','+c(jetB)+')';
}
const gradient=document.getElementById('jetGradient');
for(let i=0;i<=40;i++){
  const stop=document.createElementNS(NS,'stop');
  stop.setAttribute('offset',(i/40));
  stop.setAttribute('stop-color',jet(i/40));
  gradient.appendChild(stop);
}

function make(tag,parent,attrs){
  const el=document.createElementNS(NS,tag);
  for(const k in attrs){el.setAttribute(k,attrs[k]);}
  parent.appendChild(el);
  return el;
}
function powerLabel(parent,x,y,exp,size,mantissa){
  const t=make('text',parent,{x:x,y:y,'font-size':size});
  
  
  const base=document.createElementNS(NS,'tspan');
  base.textContent=(mantissa?mantissa+' × ':'')+'10';
  t.appendChild(base);
  const sup=document.createElementNS(NS,'tspan');
  sup.setAttribute('dy',-size*0.42);
  sup.setAttribute('font-size',size*0.7);
  sup.textContent='−'+Math.abs(exp);
  t.appendChild(sup);
}

function drawPanel(p){
  const g=make('g',panelRoot,{});
  
  
  const cx=p.left+AX_W/2,cy=p.top+AX_H/2;
  const xScale=v=>cx+v*AX_W/(2*X_LIM);
  const yScale=v=>cy-v*AX_H/(2*Y_LIM);
  const cellW=2*X_LIM/COLS,cellH=2*Y_LIM/ROWS;
  const frac=v=>(p.toValue(v)-p.vmin)/(p.vmax-p.vmin);

  const cells=make('g',g,{'shape-rendering':'crispEdges'});
  
  
  p.data.forEach((row,r)=>{
    row.forEach((v,c)=>{
      if(v===null||c>=COLS){return;}
      const x0=xScale(-X_LIM+c*cellW),x1=xScale(-X_LIM+(c+1)*cellW);
      const y0=yScale(Y_LIM-r*cellH),y1=yScale(Y_LIM-(r+1)*cellH);
      const cell=make('rect',cells,{x:x0,y:y0,width:x1-x0,height:y1-y0,fill:jet(frac(v))});
      
      
    });
  });

  const blackLine=make('line',g,{x1:xScale(p.lineTopX),y1:yScale(Y_LIM),x2:xScale(0.58),y2:yScale(-Y_LIM),stroke:'#000','stroke-width':2,'stroke-dasharray':'8 3.6'});
  
  
  if(p.grayLine){
    const grayLine=make('line',g,{x1:xScale(-5.31),y1:yScale(Y_LIM),x2:xScale(0.6),y2:yScale(-Y_LIM),stroke:'#a5a5a5','stroke-width':1.8,'stroke-dasharray':'8 2.5'});
    
    
  }
  const circle=make('circle',g,{cx:xScale(-0.8),cy:yScale(-2.92),r:27.8,fill:'none',stroke:'#000','stroke-width':1.6});
  
  
  const mx=xScale(-0.8),my=yScale(-2.92),ms=p.markerSize;
  const marker=make('path',g,{d:'M'+(mx-ms)+' '+(my-ms)+'L'+(mx+ms)+' '+(my+ms)+'M'+(mx-ms)+' '+(my+ms)+'L'+(mx+ms)+' '+(my-ms),stroke:'#000','stroke-width':p.markerStroke,fill:'none'});
  
  

  const frame=make('rect',g,{x:p.left,y:p.top,width:AX_W,height:AX_H,fill:'none',stroke:'#111','stroke-width':1.3});
  
  

  xTickValues.forEach(v=>{
    const x=xScale(v);
    const bottom=make('line',g,{x1:x,x2:x,y1:p.top+AX_H,y2:p.top+AX_H-5.5,stroke:'#000','stroke-width':1.3});
    
    
    const top=make('line',g,{x1:x,x2:x,y1:p.top,y2:p.top+5.5,stroke:'#000','stroke-width':1.3});
    
    
    const lab=make('text',g,{x:x,y:p.top+AX_H+p.tickSize+1.5,'font-size':p.tickSize,'text-anchor':'middle'});
    
    
    lab.textContent=(v<0?'−':'')+Math.abs(v).toFixed(1);
  });
  yTickValues.forEach(v=>{
    const y=yScale(v);
    const left=make('line',g,{x1:p.left,x2:p.left+5.5,y1:y,y2:y,stroke:'#000','stroke-width':1.3});
    
    
    const right=make('line',g,{x1:p.left+AX_W,x2:p.left+AX_W-5.5,y1:y,y2:y,stroke:'#000','stroke-width':1.3});
    
    
    if(p.yLabels){
      const lab=make('text',g,{x:p.left-5.5,y:y+p.tickSize*0.36,'font-size':p.tickSize,'text-anchor':'end'});
      
      
      lab.textContent=(v<0?'−':'')+Math.abs(v);
    }
  });

  // colourbar
  const bx=p.left+AX_W+5.2,bw=14.8;
  const bar=make('rect',g,{x:bx,y:p.top,width:bw,height:AX_H,fill:'url(#jetGradient)',stroke:'#111','stroke-width':1});
  
  
  const barY=v=>p.top+AX_H*(1-(v-p.vmin)/(p.vmax-p.vmin));
  const labX=bx+bw+10;
  const tickAt=(val,len)=>{
    const y=barY(val);
    const tk=make('line',g,{x1:bx+bw,x2:bx+bw+len,y1:y,y2:y,stroke:'#000','stroke-width':1.1});
    
    
    return y;
  };
  if(p.linearTicks){
    p.linearTicks.forEach(v=>{
      const y=tickAt(v,5);
      const lab=make('text',g,{x:labX,y:y+p.barSize*0.36,'font-size':p.barSize});
      
      
      lab.textContent=(v<0?'−':'')+Math.abs(v);
    });
  }
  if(p.logMajor){
    p.logMajor.forEach(e=>{
      const y=tickAt(e,5);
      powerLabel(g,labX,y+p.barSize*0.42,e,p.barSize);
    });
    p.logMinor.forEach(m=>{
      const l=Math.log10(m);
      if(l>=p.vmin&&l<=p.vmax){tickAt(l,3);}
    });
  }
  if(p.logMantissa){
    p.logMantissa.forEach(m=>{
      const l=Math.log10(m);
      const y=tickAt(l,3);
      const e=Math.floor(l);
      powerLabel(g,labX,y+4,e,p.barSize-1.5,Math.round(m/Math.pow(10,e)));
    });
  }
}

const linear=(s,o)=>v=>v*s+o;
const logStep=(b,s)=>v=>b+s*v;
const lefts=[[69.3,443.3,817.7],[61.3,436.7,811.3],[61.3,436.7,811.3],[61.3,436.7,811.3]];
const common=r=>({top:rowTops[r],tickSize:r===0?18.5:16.5,barSize:r===0?17.5:15,lineTopX:r===0?-5.2:-5.02,grayLine:r>0,markerSize:r===0?3.5:(r===1?3:2.5),markerStroke:r===0?3.2:(r===1?2.6:2)});
const panels=[
Object.assign(common(0),{name:'panel-v-stars',left:lefts[0][0],data:vStars,toValue:linear(10,0),vmin:-100,vmax:90,linearTicks:velocityStarTicks,yLabels:true}),
Object.assign(common(0),{name:'panel-sigma-stars',left:lefts[0][1],data:sigmaStars,toValue:linear(10,7),vmin:100,vmax:250,linearTicks:sigmaStarTicks}),
Object.assign(common(0),{name:'panel-flux-cont',left:lefts[0][2],data:fluxCont,toValue:logStep(-12.95,.046),vmin:-13,vmax:-11.79,logMajor:logMajorCont,logMinor:logMinorCont}),
Object.assign(common(1),{name:'panel-v-halpha',left:lefts[1][0],data:vGas,toValue:linear(10,5),vmin:-200,vmax:150,linearTicks:velocityGasTicks,yLabels:true}),
Object.assign(common(1),{name:'panel-sigma-halpha',left:lefts[1][1],data:sigmaGas,toValue:linear(10,12),vmin:0,vmax:400,linearTicks:sigmaGasTicks}),
Object.assign(common(1),{name:'panel-flux-halpha',left:lefts[1][2],data:fluxGas,toValue:logStep(-17.33,.1),vmin:-17.33,vmax:-14.28,logMajor:logMajorGas,logMinor:logMinorGas}),
Object.assign(common(2),{name:'panel-v-intermediate',left:lefts[2][0],data:vGasMid,toValue:linear(10,0),vmin:-200,vmax:150,linearTicks:velocityGasTicks,yLabels:true}),
Object.assign(common(2),{name:'panel-sigma-intermediate',left:lefts[2][1],data:sigmaGasMid,toValue:linear(10,0),vmin:0,vmax:400,linearTicks:sigmaGasTicks}),
Object.assign(common(2),{name:'panel-flux-intermediate',left:lefts[2][2],data:fluxGasMid,toValue:logStep(-16.11,.1),vmin:-16.11,vmax:-13.89,logMajor:logMajorMid,logMinor:logMinorMid}),
Object.assign(common(3),{name:'panel-v-redshifted',left:lefts[3][0],data:vGasHigh,toValue:linear(10,0),vmin:-200,vmax:150,linearTicks:velocityGasTicks,yLabels:true}),
Object.assign(common(3),{name:'panel-sigma-redshifted',left:lefts[3][1],data:sigmaGasHigh,toValue:linear(10,0),vmin:0,vmax:400,linearTicks:sigmaGasTicks}),
Object.assign(common(3),{name:'panel-flux-redshifted',left:lefts[3][2],data:fluxGasHigh,toValue:v=>Math.log10(v*1e-16),vmin:-15.28,vmax:-14.44,logMajor:logMajorHigh,logMinor:logMinorHigh,logMantissa:logMantissaHigh,barSize:13})
];
panels.forEach(drawPanel);
</script>
</body>
</html>
